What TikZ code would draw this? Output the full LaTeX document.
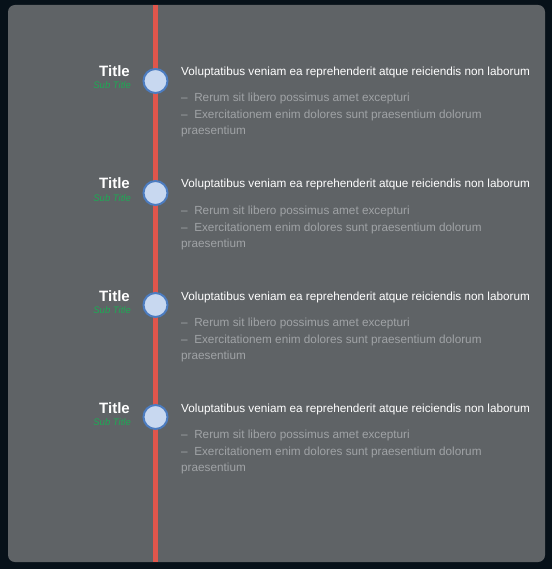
\documentclass[tikz,border=0pt]{standalone}
\usepackage{fontspec}
\setmainfont{Liberation Sans}
\usepackage{tikz}
\usetikzlibrary{positioning}
\definecolor{pagebg}{RGB}{7,17,25}
\definecolor{panelc}{RGB}{95,99,102}
\definecolor{spinec}{RGB}{224,86,76}
\definecolor{dotfill}{RGB}{200,216,240}
\definecolor{dotedge}{RGB}{76,124,192}
\definecolor{subc}{RGB}{30,170,85}
\definecolor{notec}{RGB}{160,163,166}

\begin{document}
\begin{tikzpicture}[x=1pt,y=-1pt,
	dot/.style={circle,fill=dotfill,draw=dotedge,line width=2pt,minimum size=24pt,inner sep=0pt},
	ttl/.style={anchor=base east,inner sep=0pt,font=\fontsize{15}{17}\selectfont\bfseries,text=white},
	subttl/.style={anchor=base east,inner sep=0pt,font=\fontsize{9.5}{11}\selectfont\itshape,text=subc},
	headline/.style={anchor=base west,inner sep=0pt,font=\fontsize{11.75}{13}\selectfont,text=white},
	noteline/.style={anchor=base west,inner sep=0pt,font=\fontsize{11.75}{13}\selectfont,text=notec}]
			% page and panel
			\fill[pagebg] (0,0) rectangle (552,569);
			\fill[panelc,rounded corners=7pt] (8,5) rectangle (545,562);
			% spine
			\coordinate (spinetop) at (155.5,5);
			\coordinate (spinebot) at (155.5,562);
			\draw[spinec,line width=4.3pt] (spinetop) -- (spinebot);
			% entries
			\foreach \i/\y in {1/81,2/193,3/305,4/417} {
				\node[dot] (dot\i) at (155.5,\y) {};
				\node[ttl] (title\i) at (130,{\y-4}) {Title};
				\node[subttl] (sub\i) at (131,{\y+8}) {Sub Title};
				\node[headline] (head\i) at (181,{\y-5}) {Voluptatibus veniam ea reprehenderit atque reiciendis non laborum};
				\node[noteline] (noteA\i) at (181,{\y+21}) {--\ \ Rerum sit libero possimus amet excepturi};
				\node[noteline] (noteB\i) at (181,{\y+38}) {--\ \ Exercitationem enim dolores sunt praesentium dolorum};
				\node[noteline] (noteC\i) at (181,{\y+54}) {praesentium};
			}
		\end{tikzpicture}
\end{document}
